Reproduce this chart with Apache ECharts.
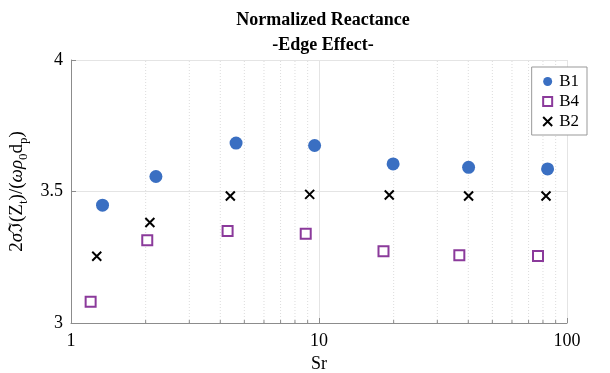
<!DOCTYPE html>
<html>
<head>
<meta charset="utf-8">
<script src="https://cdn.jsdelivr.net/npm/echarts@6/dist/echarts.min.js"></script>
<style>
  html, body { margin: 0; padding: 0; background: #fff; }
  #chart { width: 610px; height: 373px; }
</style>
</head>
<body>
<div id="chart"></div>
<script>
// values
const b1Sr = [1.34, 2.20, 4.63, 9.6, 19.9, 40.1, 83.5];
const b1Val = [3.448, 3.557, 3.684, 3.675, 3.605, 3.592, 3.586];
const b4Sr = [1.20, 2.03, 4.28, 8.84, 18.2, 36.8, 76.4];
const b4Val = [3.081, 3.315, 3.350, 3.339, 3.273, 3.258, 3.255];
const b2Sr = [1.27, 2.08, 4.39, 9.17, 19.2, 40.1, 82.3];
const b2Val = [3.254, 3.382, 3.483, 3.489, 3.487, 3.483, 3.483];
const minorSr = [2, 3, 4, 5, 6, 7, 8, 9, 20, 30, 40, 50, 60, 70, 80, 90];

const serif = "'Liberation Serif', 'DejaVu Serif', serif";
const axisGray = "#8c8c8c";

const zip = (xs, ys) => xs.map((x, i) => [x, ys[i]]);

const chart = echarts.init(document.getElementById("chart"), null, { renderer: "canvas" });

chart.setOption({
  animation: false,
  backgroundColor: "#fff",
  title: {
    text: "Normalized Reactance\n-Edge Effect-",
    left: 318,
    top: 3,
    textAlign: "center",
    textStyle: { fontFamily: serif, fontWeight: "bold", fontSize: 18, lineHeight: 25, color: "#000" },
  },
  grid: { left: 71, right: 43, top: 60, bottom: 50, outerBoundsMode: "none", containLabel: false },
  legend: {
    orient: "vertical",
    right: 23,
    top: 67,
    itemWidth: 9,
    itemHeight: 9,
    itemGap: 3,
    padding: [6, 8, 5, 9],
    backgroundColor: "#fff",
    borderColor: "#999",
    borderWidth: 1,
    textStyle: { fontFamily: serif, fontSize: 17, lineHeight: 16, color: "#000", padding: [0, 0, 0, 2] },
    data: ["B1", "B4", "B2"],
  },
  xAxis: {
    type: "log",
    logBase: 10,
    min: 1,
    max: 100,
    name: "Sr",
    nameLocation: "middle",
    nameGap: 32,
    nameTextStyle: { fontFamily: serif, fontSize: 18, color: "#000" },
    axisLine: { lineStyle: { color: axisGray } },
    axisTick: { inside: true, length: 5, lineStyle: { color: axisGray } },
    axisLabel: { fontFamily: serif, fontSize: 18, color: "#000", margin: 9 },
    splitLine: { show: true, lineStyle: { color: "#e4e4e4" } },
  },
  yAxis: {
    type: "value",
    min: 3,
    max: 4,
    interval: 0.5,
    name: "{n|2}{g|σ}{n|ℑ(Z}{s|t}{n|)/(}{g|ωρ}{s|0}{n|d}{s|p}{n|)}",
    nameLocation: "middle",
    nameRotate: 90,
    nameGap: 35,
    nameTextStyle: {
      rich: {
        n: { fontFamily: serif, fontSize: 19, lineHeight: 26, color: "#000" },
        g: { fontFamily: serif, fontSize: 19, lineHeight: 26, fontStyle: "italic", color: "#000" },
        s: { fontFamily: serif, fontSize: 13, lineHeight: 13, color: "#000", verticalAlign: "bottom" },
      },
    },
    axisLine: { show: true, lineStyle: { color: axisGray } },
    axisTick: { show: true, inside: true, length: 5, lineStyle: { color: axisGray } },
    axisLabel: { fontFamily: serif, fontSize: 18, color: "#000", margin: 8 },
    splitLine: { show: true, lineStyle: { color: "#e4e4e4" } },
  },
  series: [
    {
      // dotted minor grid and small ticks at 2..9, 20..90
      type: "custom",
      silent: true,
      z: 1,
      data: minorSr.map((v) => [v]),
      encode: { x: 0 },
      renderItem: (params, api) => {
        const v = api.value(0);
        const bottom = api.coord([v, 3]);
        const top = api.coord([v, 4]);
        return {
          type: "group",
          children: [
            {
              type: "line",
              shape: { x1: bottom[0], y1: bottom[1], x2: top[0], y2: top[1] },
              style: { stroke: "#dcdcdc", lineWidth: 1, lineDash: [1, 2] },
            },
            {
              type: "line",
              shape: { x1: bottom[0], y1: bottom[1], x2: bottom[0], y2: bottom[1] - 3 },
              style: { stroke: axisGray, lineWidth: 1 },
            },
          ],
        };
      },
    },
    {
      name: "B1",
      type: "scatter",
      z: 3,
      symbol: "circle",
      symbolSize: 13,
      itemStyle: { color: "#3a6fc2", opacity: 1 },
      data: zip(b1Sr, b1Val),
    },
    {
      name: "B4",
      type: "scatter",
      z: 3,
      symbol: "rect",
      symbolSize: 10,
      itemStyle: { color: "#fff", borderColor: "#8b3a9b", borderWidth: 2, opacity: 1 },
      data: zip(b4Sr, b4Val),
    },
    {
      name: "B2",
      type: "scatter",
      z: 3,
      symbol: "path://M0,0L10,10M10,0L0,10",
      symbolSize: 9,
      itemStyle: { color: "none", borderColor: "#000", borderWidth: 2, opacity: 1 },
      data: zip(b2Sr, b2Val),
    },
  ],
});
</script>
</body>
</html>
